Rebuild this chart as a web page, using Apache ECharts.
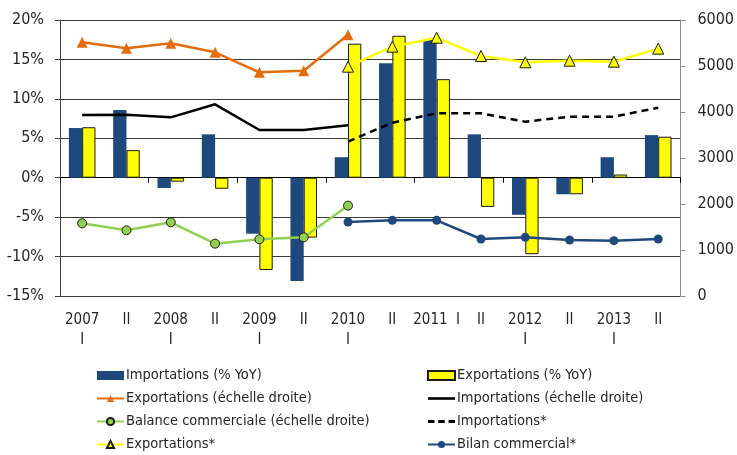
<!DOCTYPE html>
<html>
<head>
<meta charset="utf-8">
<script src="https://cdn.jsdelivr.net/npm/echarts@6/dist/echarts.min.js"></script>
<style>
  html, body { margin: 0; padding: 0; background: #fff; }
  #chart { width: 737px; height: 455px; }
</style>
</head>
<body>
<div id="chart"></div>
<script>
const categories = ['2007\nI', 'II', '2008\nI', 'II', '2009\nI', 'II', '2010\nI', 'II', '2011  I', 'II', '2012\nI', 'II', '2013\nI', 'II']

// left axis, %
const importYoY = [6.3, 8.6, -1.3, 5.5, -7.1, -13.1, 2.6, 14.5, 17.5, 5.5, -4.7, -2.1, 2.6, 5.4]
const exportYoY = [6.4, 3.5, -0.5, -1.4, -11.7, -7.6, 17.0, 18.0, 12.5, -3.7, -9.7, -2.1, 0.4, 5.2]

// right axis
const exportRight = [5515, 5384, 5493, 5297, 4862, 4898, 5681, null, null, null, null, null, null, null]
const importRight = [3935, 3942, 3884, 4167, 3609, 3609, 3710, null, null, null, null, null, null, null]
const balanceRight = [1580, 1428, 1602, 1138, 1232, 1275, 1964, null, null, null, null, null, null, null]
const importStar = [null, null, null, null, null, null, 3355, 3768, 3971, 3971, 3790, 3899, 3899, 4094]
const exportStar = [null, null, null, null, null, null, 4985, 5420, 5615, 5217, 5080, 5116, 5094, 5377]
const bilanStar = [null, null, null, null, null, null, 1609, 1645, 1645, 1239, 1275, 1217, 1203, 1239]

const leftTicks = { min: -15, max: 20, interval: 5 }
const rightTicks = { min: 0, max: 6000, interval: 1000 }

const FONT = '"Liberation Sans Narrow", "Arial Narrow", "DejaVu Sans Condensed", sans-serif'
const TXT = '#262626'
// legend icons for the plain lines (line series without markers)
const SOLID_ICON = 'path://M0,0H27V2.6H0Z'
const DASH_ICON = 'path://M0,0H6V2.6H0Z M9.5,0H15.5V2.6H9.5Z M19,0H25V2.6H19Z'

const chart = echarts.init(document.getElementById('chart'))

const legendBase = {
  orient: 'vertical',
  padding: 0,
  itemWidth: 27,
  itemHeight: 9,
  itemGap: 8,
  textStyle: { fontFamily: FONT, fontSize: 14.5, color: TXT, padding: [0, 0, 0, -3] },
}

const option = {
  animation: false,
  textStyle: { fontFamily: FONT },
  grid: { left: 60, right: 51, top: 20, bottom: 159 },
  legend: [
    {
      ...legendBase,
      left: 96,
      top: 368,
      data: [
        { name: 'Importations (% YoY)', icon: 'rect' },
        'Exportations (échelle droite)',
        'Balance commerciale (échelle droite)',
        'Exportations*',
      ],
    },
    {
      ...legendBase,
      left: 427,
      top: 368,
      data: [
        { name: 'Exportations (% YoY)', icon: 'rect' },
        { name: 'Importations (échelle droite)', icon: SOLID_ICON },
        { name: 'Importations*', icon: DASH_ICON },
        'Bilan commercial*',
      ],
    },
  ],
  xAxis: [
    {
      type: 'category',
      data: categories,
      axisLine: { onZero: true, onZeroAxisIndex: 0, lineStyle: { color: '#000', width: 1 } },
      axisTick: { show: true, length: 5, lineStyle: { color: '#000' } },
      axisLabel: { show: false },
    },
    {
      type: 'category',
      data: categories,
      position: 'bottom',
      axisLine: { show: false, onZero: false },
      axisTick: { show: false },
      axisLabel: {
        interval: 0,
        margin: 14,
        fontFamily: FONT,
        fontSize: 15,
        lineHeight: 20,
        color: TXT,
      },
    },
  ],
  yAxis: [
    {
      type: 'value',
      ...leftTicks,
      axisLine: { show: true, lineStyle: { color: '#404040' } },
      axisTick: { show: true, length: 5, lineStyle: { color: '#404040' } },
      axisLabel: { formatter: '{value}%', fontFamily: FONT, fontSize: 16, color: TXT, margin: 16 },
      splitLine: { lineStyle: { color: '#3a3a3a', width: 1 } },
    },
    {
      type: 'value',
      ...rightTicks,
      axisLine: { show: true, lineStyle: { color: '#8c8c8c' } },
      axisTick: { show: true, length: 5, lineStyle: { color: '#8c8c8c' } },
      axisLabel: { formatter: (v) => String(v), fontFamily: FONT, fontSize: 16, color: TXT, margin: 17 },
      splitLine: { show: false },
    },
  ],
  series: [
    {
      name: 'Importations (% YoY)',
      type: 'bar',
      data: importYoY,
      barGap: '0%',
      barCategoryGap: '40%',
      itemStyle: { color: '#1F497D' },
    },
    {
      name: 'Exportations (% YoY)',
      type: 'bar',
      data: exportYoY,
      barGap: '0%',
      barCategoryGap: '40%',
      itemStyle: { color: '#FFFF00', borderColor: '#1a1a1a', borderWidth: 1 },
    },
    {
      name: 'Exportations (échelle droite)',
      type: 'line',
      yAxisIndex: 1,
      data: exportRight,
      symbol: 'triangle',
      symbolSize: 11,
      lineStyle: { color: '#E46C0A', width: 2.5 },
      itemStyle: { color: '#E46C0A' },
    },
    {
      name: 'Importations (échelle droite)',
      type: 'line',
      yAxisIndex: 1,
      data: importRight,
      showSymbol: false,
      lineStyle: { color: '#000', width: 2.5 },
      itemStyle: { color: '#000' },
    },
    {
      name: 'Balance commerciale (échelle droite)',
      type: 'line',
      yAxisIndex: 1,
      data: balanceRight,
      symbol: 'circle',
      symbolSize: 9,
      lineStyle: { color: '#92D050', width: 2.5 },
      itemStyle: { color: '#92D050', borderColor: '#1a1a1a', borderWidth: 1 },
    },
    {
      name: 'Importations*',
      type: 'line',
      yAxisIndex: 1,
      data: importStar,
      showSymbol: false,
      lineStyle: { color: '#000', width: 2.5, type: [7, 5] },
      itemStyle: { color: '#000' },
    },
    {
      name: 'Exportations*',
      type: 'line',
      yAxisIndex: 1,
      data: exportStar,
      symbol: 'triangle',
      symbolSize: 11,
      lineStyle: { color: '#FFFF00', width: 2.5 },
      itemStyle: { color: '#FFFF00', borderColor: '#1a1a1a', borderWidth: 1 },
    },
    {
      name: 'Bilan commercial*',
      type: 'line',
      yAxisIndex: 1,
      data: bilanStar,
      symbol: 'circle',
      symbolSize: 9,
      lineStyle: { color: '#1F497D', width: 2.5 },
      itemStyle: { color: '#1F497D' },
    },
  ],
}

chart.setOption(option)
</script>
</body>
</html>
